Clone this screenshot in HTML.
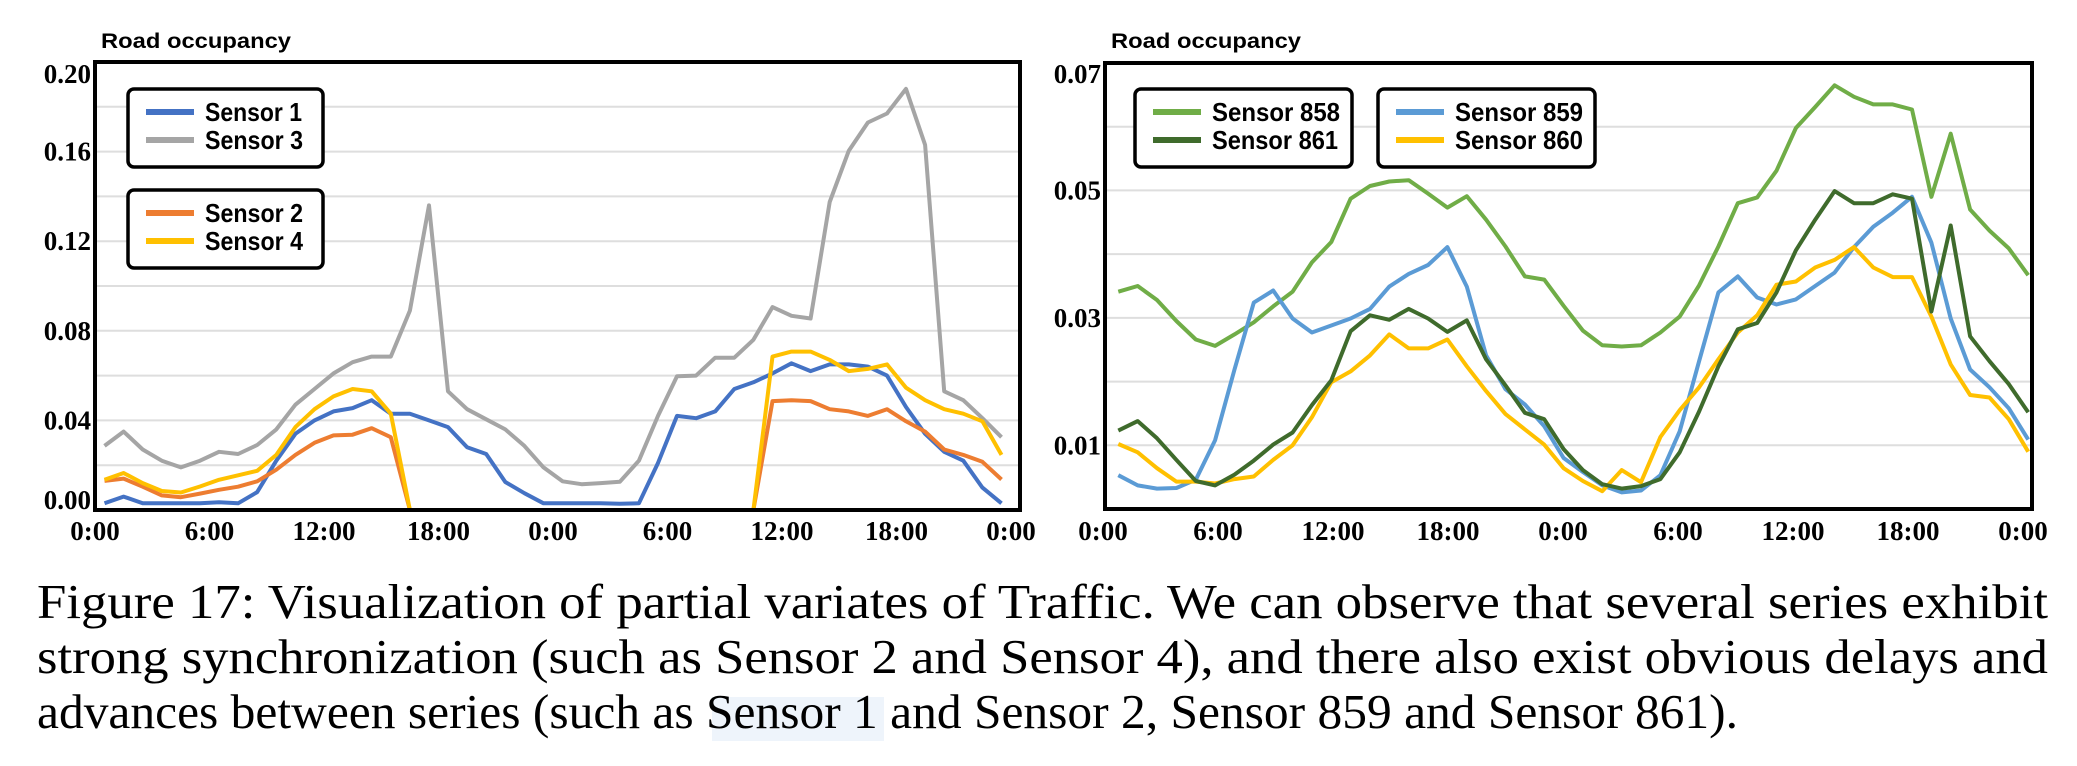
<!DOCTYPE html>
<html><head><meta charset="utf-8"><style>
html,body{margin:0;padding:0;background:#fff;}
svg{display:block;}
.tick{font-family:"Liberation Serif",serif;font-weight:bold;font-size:27px;fill:#000;}
.ttl{font-family:"Liberation Sans",sans-serif;font-weight:bold;font-size:21px;fill:#000;}
.leg{font-family:"Liberation Sans",sans-serif;font-weight:bold;font-size:26px;fill:#000;}
.cap{font-family:"Liberation Serif",serif;font-size:49px;fill:#000;}
</style></head><body>
<svg id="fig" width="2077" height="766" viewBox="0 0 2077 766" xmlns="http://www.w3.org/2000/svg">
<g id="left"></g>
<g id="right"></g>
<rect x="712" y="697" width="172" height="44" fill="#eef4fb"/>
<text class="cap" x="37" y="618" textLength="2011" lengthAdjust="spacingAndGlyphs">Figure 17:  Visualization of partial variates of Traffic.  We can observe that several series exhibit</text>
<text class="cap" x="37" y="673" textLength="2011" lengthAdjust="spacingAndGlyphs">strong synchronization (such as Sensor 2 and Sensor 4), and there also exist obvious delays and</text>
<text class="cap" x="37" y="728" textLength="1701" lengthAdjust="spacingAndGlyphs">advances between series (such as Sensor 1 and Sensor 2, Sensor 859 and Sensor 861).</text>
</svg>
<script>
const xTickLabels = ["0:00","6:00","12:00","18:00","0:00","6:00","12:00","18:00","0:00"];
const leftYTicks = [0.00,0.04,0.08,0.12,0.16,0.20];
const rightYTicks = [0.01,0.03,0.05,0.07];
const sensor1 = [0.003,0.006,0.003,0.003,0.003,0.003,0.0035,0.003,0.008,0.022,0.034,0.040,0.044,0.0455,0.049,0.043,0.043,0.040,0.037,0.028,0.025,0.0125,0.0075,0.003,0.003,0.003,0.003,0.0028,0.003,0.021,0.042,0.041,0.044,0.054,0.057,0.061,0.0655,0.062,0.065,0.065,0.064,0.060,0.046,0.034,0.026,0.022,0.010,0.003];
const sensor3 = [0.0286,0.035,0.027,0.022,0.019,0.022,0.026,0.025,0.029,0.036,0.047,0.054,0.061,0.066,0.0685,0.0685,0.089,0.136,0.053,0.045,0.0405,0.036,0.0286,0.019,0.0128,0.0115,0.012,0.0126,0.022,0.042,0.0597,0.060,0.068,0.068,0.076,0.0906,0.0867,0.0855,0.1375,0.1604,0.173,0.177,0.188,0.163,0.053,0.049,0.041,0.0325];
const sensor2 = [0.013,0.014,0.0104,0.0065,0.0057,0.0073,0.009,0.0104,0.0128,0.018,0.0246,0.030,0.0333,0.0336,0.0365,0.0325,0,0,0,0,0,0,0,0,0,0,0,0,0,0,0,0,0,0,0,0.0486,0.049,0.0486,0.045,0.044,0.042,0.045,0.0396,0.035,0.027,0.0246,0.0215,0.0136];
const sensor4 = [0.0135,0.0165,0.012,0.0085,0.0078,0.0105,0.0135,0.0155,0.0175,0.0246,0.037,0.045,0.0507,0.054,0.053,0.043,0,0,0,0,0,0,0,0,0,0,0,0,0,0,0,0,0,0,0,0.0685,0.0707,0.0707,0.067,0.062,0.063,0.065,0.0546,0.049,0.045,0.043,0.0396,0.0246];
const sensor858 = [0.0341,0.035,0.0328,0.0295,0.0266,0.0256,0.0274,0.0293,0.0318,0.0341,0.0387,0.0419,0.0487,0.0507,0.0514,0.0516,0.0495,0.0473,0.0491,0.0454,0.0412,0.0365,0.036,0.0319,0.028,0.0257,0.0255,0.0257,0.0277,0.0302,0.0351,0.0412,0.048,0.0489,0.0531,0.0598,0.0631,0.0665,0.0647,0.0635,0.0635,0.0627,0.049,0.0589,0.047,0.0437,0.0409,0.0367];
const sensor859 = [0.0053,0.0037,0.0032,0.0033,0.0046,0.0108,0.0219,0.0324,0.0343,0.0299,0.0277,0.0288,0.0299,0.0314,0.0349,0.0369,0.0383,0.0411,0.0349,0.0241,0.0188,0.0164,0.013,0.008,0.0058,0.0037,0.0026,0.0029,0.0053,0.0122,0.0232,0.034,0.0365,0.0332,0.0321,0.0329,0.035,0.0371,0.0411,0.0443,0.0465,0.049,0.0418,0.0299,0.0219,0.0191,0.0158,0.0109];
const sensor861 = [0.0123,0.0138,0.0111,0.0077,0.0044,0.0037,0.0054,0.0076,0.0101,0.012,0.0163,0.0202,0.0279,0.0304,0.0297,0.0314,0.0299,0.0278,0.0296,0.0235,0.0194,0.0151,0.0141,0.0094,0.0061,0.0039,0.0032,0.0036,0.0047,0.0089,0.0153,0.0224,0.0282,0.0292,0.034,0.0406,0.0454,0.0499,0.048,0.048,0.0494,0.0487,0.031,0.0445,0.0271,0.0232,0.0196,0.0152];
const sensor860 = [0.0102,0.0089,0.0064,0.0043,0.0043,0.004,0.0047,0.0051,0.0077,0.010,0.0144,0.0199,0.0216,0.0241,0.0274,0.0252,0.0252,0.0266,0.0224,0.0185,0.0149,0.0125,0.0101,0.0064,0.0044,0.0028,0.0061,0.0042,0.0113,0.0155,0.0191,0.0235,0.0277,0.0304,0.0352,0.0357,0.0379,0.0391,0.0411,0.0379,0.0364,0.0364,0.0302,0.0227,0.0179,0.0175,0.0141,0.009];

const NS='http://www.w3.org/2000/svg';
function mk(parent,tag,attrs){const e=document.createElementNS(NS,tag);for(const k in attrs)e.setAttribute(k,attrs[k]);parent.appendChild(e);return e;}

function drawChart(g,cfg){
  const yS=v=>cfg.y0-(v-cfg.vmin)/(cfg.vmax-cfg.vmin)*(cfg.y0-cfg.y1);
  const xS=h=>cfg.hx0+h/48*(cfg.hx1-cfg.hx0);
  for(let v=cfg.vmin+cfg.gstep; v<cfg.vmax-1e-9; v+=cfg.gstep){
    const l=mk(g,'line',{x1:cfg.fx0,x2:cfg.fx1,y1:yS(v),y2:yS(v),stroke:'#dedede','stroke-width':2});
    
    
  }
  const t=mk(g,'text',{x:cfg.fx0+6,y:48,class:'ttl',textLength:190,lengthAdjust:'spacingAndGlyphs'});
  t.textContent='Road occupancy';
  
  
  cfg.yticks.forEach(v=>{
    let cy=Math.min(Math.max(yS(v),74),500);
    const e=mk(g,'text',{x:cfg.fx0-4,y:cy+9,class:'tick','text-anchor':'end'});
    e.textContent=v.toFixed(2);
    
    
  });
  xTickLabels.forEach((s,i)=>{
    const e=mk(g,'text',{x:xS(i*6),y:540,class:'tick','text-anchor':'middle'});
    e.textContent=s;
    
    
  });
  cfg.series.forEach(s=>{
    const pts=s.data.map((v,i)=>xS(cfg.h0+i*cfg.hstep).toFixed(1)+','+yS(v).toFixed(1)).join(' ');
    const p=mk(g,'polyline',{points:pts,fill:'none',stroke:s.color,'stroke-width':4,'stroke-linejoin':'round'});
    
    
  });
  const f=mk(g,'rect',{x:cfg.fx0,y:cfg.y1,width:cfg.fx1-cfg.fx0,height:cfg.y0-cfg.y1,fill:'none',stroke:'#000','stroke-width':4});
  
  
  cfg.legends.forEach(L=>{
    const lg=mk(g,'g',{});
    
    
    mk(lg,'rect',{x:L.x,y:L.y,width:L.w,height:78,rx:6,fill:'#fff',stroke:'#000','stroke-width':3.5});
    L.items.forEach((it,j)=>{
      const by=L.y+32+j*28;
      const ln=mk(lg,'line',{x1:L.x+18,x2:L.x+66,y1:by-9,y2:by-9,stroke:it.color,'stroke-width':6});
      
      
      const tx=mk(lg,'text',{x:L.x+77,y:by,class:'leg',textLength:it.w,lengthAdjust:'spacingAndGlyphs'});
      tx.textContent=it.label;
      
      
    });
  });
}

drawChart(document.getElementById('left'),{
  fx0:95,fx1:1020,hx0:95,hx1:1011,y0:510,y1:62,vmin:0,vmax:0.20,gstep:0.02,
  yticks:leftYTicks,h0:0.5,hstep:1,
  series:[
    {id:'sensor-3',color:'#A5A5A5',data:sensor3},
    {id:'sensor-1',color:'#4472C4',data:sensor1},
    {id:'sensor-2',color:'#ED7D31',data:sensor2},
    {id:'sensor-4',color:'#FFC000',data:sensor4}],
  legends:[
    {x:128,y:89,w:195,items:[{label:'Sensor 1',color:'#4472C4',w:97},{label:'Sensor 3',color:'#A5A5A5',w:98}]},
    {x:128,y:190,w:195,items:[{label:'Sensor 2',color:'#ED7D31',w:98},{label:'Sensor 4',color:'#FFC000',w:98}]}]
});
drawChart(document.getElementById('right'),{
  fx0:1105,fx1:2032,hx0:1103,hx1:2023,y0:509,y1:63,vmin:0,vmax:0.07,gstep:0.01,
  yticks:rightYTicks,h0:0.8,hstep:1.01,
  series:[
    {id:'sensor-858',color:'#70AD47',data:sensor858},
    {id:'sensor-859',color:'#5B9BD5',data:sensor859},
    {id:'sensor-860',color:'#FFC000',data:sensor860},
    {id:'sensor-861',color:'#3F6B2C',data:sensor861}],
  legends:[
    {x:1135,y:89,w:217,items:[{label:'Sensor 858',color:'#70AD47',w:128},{label:'Sensor 861',color:'#3F6B2C',w:126}]},
    {x:1378,y:89,w:217,items:[{label:'Sensor 859',color:'#5B9BD5',w:128},{label:'Sensor 860',color:'#FFC000',w:128}]}]
});
</script>
</body></html>
